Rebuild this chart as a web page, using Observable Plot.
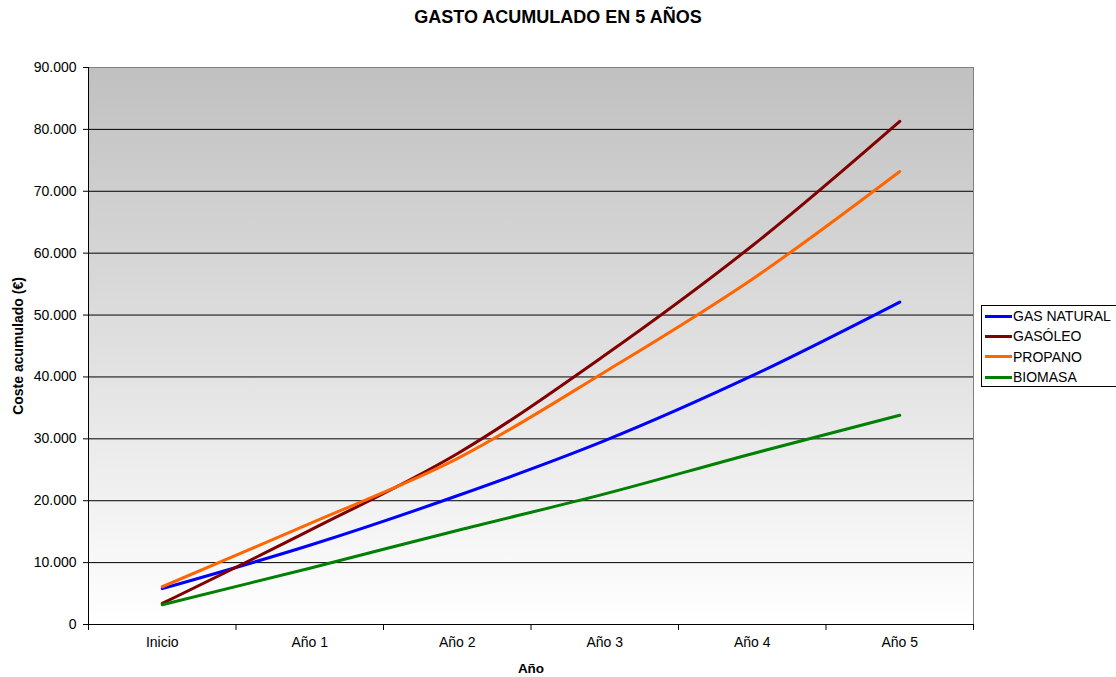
<!DOCTYPE html>
<html>
<head>
<meta charset="utf-8">
<script src="https://cdn.jsdelivr.net/npm/d3@7"></script>
<script src="https://cdn.jsdelivr.net/npm/@observablehq/plot@0.6"></script>
<style>
  body { margin: 0; background: #fff; }
  #wrap { position: relative; width: 1116px; height: 677px; font-family: "Liberation Sans", Arial, sans-serif; }
  #title { position: absolute; left: 0; top: 7px; width: 1116px; text-align: center; font-weight: bold; font-size: 18px; color: #000; }
  #legend { position: absolute; left: 981px; top: 305px; width: 134px; height: 80px; border: 1px solid #000; border-right: none; background: #fff; font-size: 14px; }
  .item { position: absolute; left: 3px; height: 20px; line-height: 20px; white-space: nowrap; }
  .sw { display: inline-block; width: 27px; height: 3px; vertical-align: middle; margin-right: 1px; position: relative; top: -1px; }
</style>
</head>
<body>
<div id="wrap">
  <div id="title"></div>
  <div id="legend"></div>
</div>
<script>
const chartTitle = "GASTO ACUMULADO EN 5 AÑOS";
const yLabel = "Coste acumulado (€)";
const xLabel = "Año";
const categories = ["Inicio", "Año 1", "Año 2", "Año 3", "Año 4", "Año 5"];
const seriesNames = ["GAS NATURAL", "GASÓLEO", "PROPANO", "BIOMASA"];
const seriesColors = ["#0000ff", "#800000", "#ff6600", "#008000"];
const gasNatural = [5800, 12800, 20800, 29700, 40200, 52100];
const gasoleo    = [3400, 15200, 27600, 43500, 61200, 81300];
const propano    = [6100, 16300, 26800, 40800, 55800, 73200];
const biomasa    = [3200, 9100, 15200, 21100, 27600, 33800];
const yTicks = [0, 10000, 20000, 30000, 40000, 50000, 60000, 70000, 80000, 90000];

const seriesValues = [gasNatural, gasoleo, propano, biomasa];
const data = [];
seriesNames.forEach((s, k) => {
  seriesValues[k].forEach((v, i) => data.push({series: s, i, category: categories[i], value: v}));
});

const locale = d3.formatLocale({decimal: ",", thousands: ".", grouping: [3], currency: ["", " €"]});
const fmt = locale.format(",d");
const catIdx = categories.map((c, i) => i);
const boundaries = categories.map((c, i) => i - 0.5).concat([categories.length - 0.5]);

const chart = Plot.plot({
  width: 1116,
  height: 677,
  marginLeft: 88,
  marginRight: 143,
  marginTop: 67,
  marginBottom: 53,
  style: {fontFamily: "'Liberation Sans', Arial, sans-serif", fontSize: "14px", background: "transparent", color: "#000"},
  x: {type: "linear", domain: [-0.5, categories.length - 0.5]},
  y: {domain: [0, 90000]},
  color: {domain: seriesNames, range: seriesColors},
  marks: [
    Plot.frame({fill: "url(#bggrad)", stroke: "#808080"}),
    Plot.ruleY(yTicks.filter(v => v > 0 && v < 90000), {stroke: "#000", strokeWidth: 1}),
    Plot.line(data, {x: "i", y: "value", z: "series", stroke: "series", strokeWidth: 3, curve: "catmull-rom"}),
    Plot.ruleX([-0.5], {stroke: "#000"}),
    Plot.ruleY([0], {stroke: "#000"}),
    Plot.axisY({ticks: yTicks, tickFormat: fmt, tickSize: 5, tickPadding: 7, label: null, stroke: "#000"}),
    Plot.axisX({ticks: boundaries, tickFormat: () => "", tickSize: 6, label: null, stroke: "#000"}),
    Plot.axisX({ticks: catIdx, tickFormat: i => categories[i], tickSize: 0, tickPadding: 13, label: null}),
    Plot.text([yLabel], {frameAnchor: "left", textAnchor: "middle", dx: -70, rotate: -90, fontWeight: "bold", fontSize: 14}),
    Plot.text([xLabel], {frameAnchor: "bottom", dy: 48, fontWeight: "bold", fontSize: 13.5})
  ]
});

d3.select(chart).insert("defs", ":first-child").html(
  '<linearGradient id="bggrad" x1="0" y1="0" x2="0" y2="1">' +
  '<stop offset="0" stop-color="#c0c0c0"/><stop offset="1" stop-color="#ffffff"/></linearGradient>'
);

const wrap = document.getElementById("wrap");
wrap.insertBefore(chart, wrap.firstChild);
document.getElementById("title").textContent = chartTitle;

const legend = document.getElementById("legend");
seriesNames.forEach((s, k) => {
  const it = document.createElement("div");
  it.className = "item";
  it.style.top = (0 + k * 20.3) + "px";
  const sw = document.createElement("span");
  sw.className = "sw";
  sw.style.background = seriesColors[k];
  it.appendChild(sw);
  it.appendChild(document.createTextNode(s));
  legend.appendChild(it);
});
</script>
</body>
</html>
